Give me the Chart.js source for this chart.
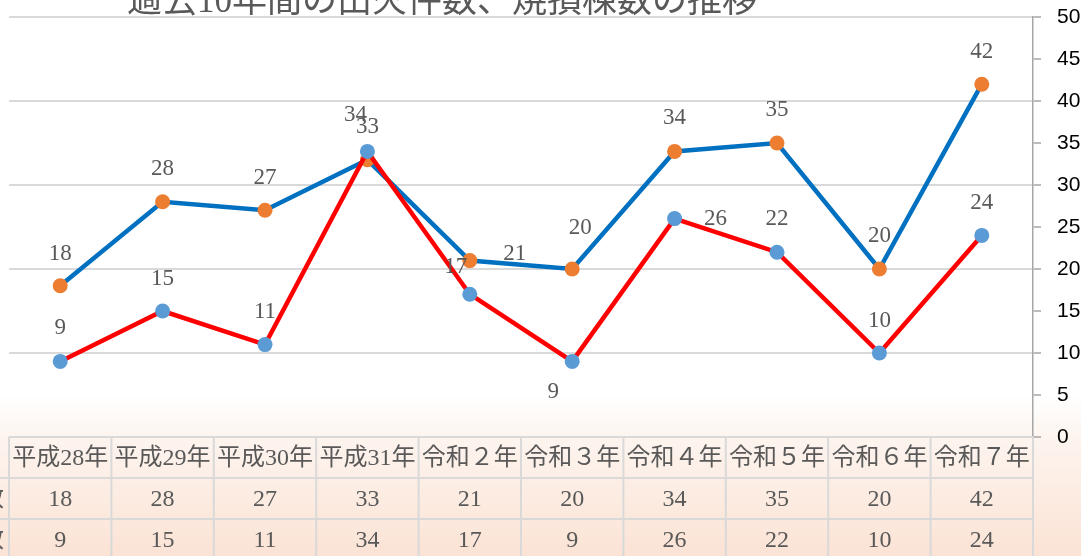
<!DOCTYPE html>
<html lang="ja">
<head>
<meta charset="utf-8">
<title>過去10年間の出火件数、焼損棟数の推移</title>
<script src="https://cdn.jsdelivr.net/npm/chart.js@4.4.1/dist/chart.umd.min.js"></script>
<style>
  html, body { margin: 0; padding: 0; }
  body {
    width: 1081px; height: 556px; overflow: hidden;
    background: linear-gradient(to bottom, #ffffff 0%, #ffffff 71%, #fdf4ee 79%, #fbe3d5 100%);
  }
  #wrap { position: relative; width: 1081px; height: 556px; }
</style>
</head>
<body>
<div id="wrap"><canvas id="chart"></canvas></div>
<script>
/* 過去10年間の出火件数、焼損棟数の推移 */
const chartTitle = '過去10年間の出火件数、焼損棟数の推移';
const categories = ['平成28年', '平成29年', '平成30年', '平成31年', '令和２年', '令和３年', '令和４年', '令和５年', '令和６年', '令和７年'];
const seriesNames = ['出火件数', '焼損棟数'];
const fireCounts = [18, 28, 27, 33, 21, 20, 34, 35, 20, 42];
const burnedBuildings = [9, 15, 11, 34, 17, 9, 26, 22, 10, 24];
const yMin = 0, yMax = 50, yStep = 5;

// label nudges (px) relative to each point, like Excel's hand-placed labels
const fireLabelOffsets = [[0,-32],[0,-33],[0,-32],[0,-33],[45,-7],[8,-41],[0,-33],[0,-33],[0,-33],[0,-32]];
const burnedLabelOffsets = [[0,-33],[0,-32],[0,-33],[-12,-36],[-14,-27],[-19,31],[41,0],[0,-33],[0,-32],[0,-32]];

const GREY_TEXT = '#595959';
const GRID = '#d9d9d9';
const SERIF = '"Liberation Serif", "Noto Sans CJK JP", serif';

const labelPlugin = {
  id: 'pointLabels',
  afterDatasetsDraw(chart) {
    const ctx = chart.ctx;
    ctx.save();
    ctx.font = '23px ' + SERIF;
    ctx.fillStyle = GREY_TEXT;
    ctx.textAlign = 'center';
    ctx.textBaseline = 'middle';
    chart.data.datasets.forEach((ds, di) => {
      const meta = chart.getDatasetMeta(di);
      meta.data.forEach((pt, i) => {
        const off = ds.labelOffsets[i];
        ctx.fillText(String(ds.data[i]), pt.x + off[0], pt.y + off[1]);
      });
    });
    ctx.restore();
  }
};

const tablePlugin = {
  id: 'dataTable',
  afterDraw(chart) {
    const ctx = chart.ctx;
    const area = chart.chartArea;
    const n = categories.length;
    const colW = (area.right - area.left) / n;
    const top = area.bottom;
    const rowH = 41;
    const rows = [fireCounts, burnedBuildings];
    ctx.save();
    ctx.strokeStyle = GRID;
    ctx.lineWidth = 2;
    // header row top + row lines
    ctx.beginPath();
    ctx.moveTo(area.left, top); ctx.lineTo(area.right, top);
    for (let r = 1; r <= 3; r++) {
      ctx.moveTo(0, top + r * rowH); ctx.lineTo(area.right, top + r * rowH);
    }
    for (let c = 0; c <= n; c++) {
      const x = area.left + c * colW;
      ctx.moveTo(x, top); ctx.lineTo(x, chart.height);
    }
    ctx.stroke();

    ctx.fillStyle = GREY_TEXT;
    ctx.textAlign = 'center';
    ctx.textBaseline = 'middle';
    ctx.font = '24px ' + SERIF;
    categories.forEach((c, i) => {
      ctx.fillText(c, area.left + (i + 0.5) * colW, top + rowH / 2 + 1);
    });
    rows.forEach((vals, r) => {
      vals.forEach((v, i) => {
        ctx.fillText(String(v), area.left + (i + 0.5) * colW, top + (r + 1.5) * rowH + 1);
      });
    });
    // series names, mostly clipped off the left edge
    ctx.textAlign = 'right';
    seriesNames.forEach((s, r) => {
      ctx.fillText(s, 4, top + (r + 1.5) * rowH + 1);
    });

    // title, cut at the top of the picture
    ctx.font = '35px ' + SERIF;
    ctx.textAlign = 'center';
    ctx.textBaseline = 'alphabetic';
    ctx.fillText(chartTitle, 442, 12);
    ctx.restore();
  }
};

new Chart(document.getElementById('chart'), {
  type: 'line',
  data: {
    labels: categories,
    datasets: [{
      label: seriesNames[0],
      data: fireCounts,
      labelOffsets: fireLabelOffsets,
      borderColor: '#0070c0',
      borderWidth: 4.5,
      pointBackgroundColor: '#ed7d31',
      pointBorderColor: '#ed7d31',
      pointRadius: 7.5,
      pointBorderWidth: 0,
      tension: 0,
      order: 1
    }, {
      label: seriesNames[1],
      data: burnedBuildings,
      labelOffsets: burnedLabelOffsets,
      borderColor: '#ff0000',
      borderWidth: 4.5,
      pointBackgroundColor: '#5b9bd5',
      pointBorderColor: '#5b9bd5',
      pointRadius: 7.5,
      pointBorderWidth: 0,
      tension: 0,
      order: 0
    }]
  },
  options: {
    responsive: true,
    maintainAspectRatio: false,
    animation: false,
    layout: { autoPadding: false, padding: { top: 17, left: 9, right: 0, bottom: 119 } },
    plugins: {
      legend: { display: false },
      title: { display: false },
      tooltip: { enabled: false }
    },
    scales: {
      x: { display: false, offset: true },
      y: {
        position: 'right',
        min: yMin, max: yMax,
        afterFit: s => { s.width = 48; s.paddingTop = 0; s.paddingBottom = 0; },
        ticks: {
          stepSize: yStep,
          color: '#000000',
          padding: 16,
          font: { family: '"Liberation Sans", "Noto Sans", sans-serif', size: 21 }
        },
        grid: {
          color: c => (c.tick && c.tick.value % 10 === 0) ? GRID : 'rgba(0,0,0,0)',
          lineWidth: 2,
          tickColor: '#a6a6a6',
          tickLength: 8,
          tickWidth: 1.5
        },
        border: { color: '#a6a6a6', width: 1.5 }
      }
    }
  },
  plugins: [labelPlugin, tablePlugin]
});
</script>
</body>
</html>
